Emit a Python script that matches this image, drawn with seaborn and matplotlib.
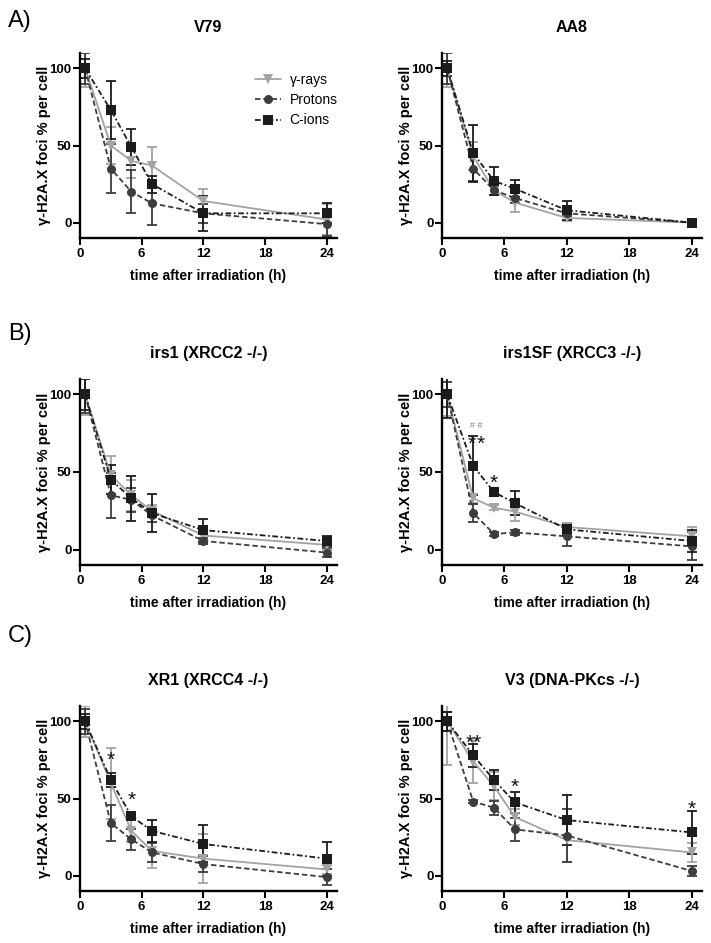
import matplotlib
matplotlib.use("Agg")
import matplotlib.pyplot as plt
import pandas as pd
import seaborn as sns
from matplotlib.lines import Line2D

# ---------------- data ----------------
times = [0.5, 3, 5, 7, 12, 24]
series_names = ["γ-rays", "Protons", "C-ions"]
panel_titles = ["V79", "AA8", "irs1 (XRCC2 -/-)", "irs1SF (XRCC3 -/-)",
                "XR1 (XRCC4 -/-)", "V3 (DNA-PKcs -/-)"]
section_labels = ["A)", "B)", "C)"]
x_ticks = [0, 6, 12, 18, 24]
y_ticks = [0, 50, 100]
x_label = "time after irradiation (h)"
y_label = "γ-H2A.X foci % per cell"

v79_gamma = [100, 50, 40, 37, 14, 2]
v79_gamma_err = [12, 12, 11, 12, 8, 10]
v79_protons = [100, 35, 20, 12.5, 6, -1]
v79_protons_err = [10, 16, 14, 14, 6, 8]
v79_cions = [100, 73, 49, 25, 6, 6]
v79_cions_err = [6, 19, 11.5, 5.5, 11.5, 6.5]

aa8_gamma = [100, 43, 21, 13, 3, 0]
aa8_gamma_err = [12, 9, 3, 6, 2, 0.5]
aa8_protons = [100, 35, 21, 16, 6, 0]
aa8_protons_err = [10, 8, 3, 3, 2, 0.5]
aa8_cions = [100, 45, 27, 22, 8, 0]
aa8_cions_err = [5, 18.5, 9, 5.5, 6, 1]

irs1_gamma = [100, 48, 35, 25, 9, 3]
irs1_gamma_err = [13, 12.5, 10, 4, 3, 3]
irs1_protons = [100, 35, 32, 22, 5.5, -2]
irs1_protons_err = [12, 14.5, 8, 4, 2, 3]
irs1_cions = [100, 45, 33, 23.5, 12.5, 5.5]
irs1_cions_err = [10, 9.5, 14.5, 12, 7.5, 3.5]

irs1sf_gamma = [100, 33, 27, 24.5, 14.5, 8.5]
irs1sf_gamma_err = [14, 3, 1.5, 6, 2, 6]
irs1sf_protons = [100, 23.5, 10, 11, 8.5, 2]
irs1sf_protons_err = [8, 6, 1.5, 1.5, 6, 9]
irs1sf_cions = [100, 54, 37, 30, 13, 5.5]
irs1sf_cions_err = [15, 19, 1.5, 7.5, 3.5, 7]

xr1_gamma = [100, 60, 29, 16, 11, 4]
xr1_gamma_err = [10, 23, 7, 11, 16, 3]
xr1_protons = [100, 34, 23.5, 15, 7.5, -1]
xr1_protons_err = [8, 11.5, 7, 6, 5, 5]
xr1_cions = [100, 62, 38.5, 29, 20.5, 11]
xr1_cions_err = [5, 4.5, 2, 7.3, 12, 11]

v3_gamma = [100, 74, 58, 38, 23, 15]
v3_gamma_err = [28, 14, 9, 5, 14.5, 6]
v3_protons = [100, 48, 44, 30, 26, 3]
v3_protons_err = [6, 1, 4.5, 7.5, 17, 3]
v3_cions = [100, 78, 62, 47.5, 36, 28]
v3_cions_err = [6, 7.5, 6.5, 7, 16, 14]

# significance marks
annot_panel = [3, 3, 3, 3, 4, 4, 5, 5, 5]
annot_x = [3.3, 2.85, 3.75, 5.0, 3.0, 5.0, 3.1, 7.0, 24.0]
annot_y = [80, 72, 72, 47, 79, 53, 90, 61, 47]
annot_text = ["# #", "*", "*", "*", "*", "*", "**", "*", "*"]

# ---------------- style ----------------
sns.set_style("ticks", {"axes.edgecolor": "black", "xtick.color": "black",
                        "ytick.color": "black", "text.color": "black",
                        "axes.labelcolor": "black"})
plt.rcParams['font.family'] = ['Liberation Sans', 'DejaVu Sans']

palette = {"γ-rays": "#a3a3a3", "Protons": "#3d3d3d", "C-ions": "#1c1c1c"}
dashes = {"γ-rays": "", "Protons": (3, 1.6), "C-ions": (3.2, 1.4, 1, 1.4)}
markers = {"γ-rays": "v", "Protons": "o", "C-ions": "s"}
LW = 1.3
MS = 6.5

panels = [
    (v79_gamma, v79_gamma_err, v79_protons, v79_protons_err, v79_cions, v79_cions_err),
    (aa8_gamma, aa8_gamma_err, aa8_protons, aa8_protons_err, aa8_cions, aa8_cions_err),
    (irs1_gamma, irs1_gamma_err, irs1_protons, irs1_protons_err, irs1_cions, irs1_cions_err),
    (irs1sf_gamma, irs1sf_gamma_err, irs1sf_protons, irs1sf_protons_err, irs1sf_cions, irs1sf_cions_err),
    (xr1_gamma, xr1_gamma_err, xr1_protons, xr1_protons_err, xr1_cions, xr1_cions_err),
    (v3_gamma, v3_gamma_err, v3_protons, v3_protons_err, v3_cions, v3_cions_err),
]

W, H = 711, 943
fig = plt.figure(figsize=(W / 100, H / 100), dpi=100)

col_px = [(80, 337), (442, 702)]
row_px = [(53, 238), (379, 565), (706, 891)]

axes = []
for i in range(6):
    r, c = divmod(i, 2)
    x0, x1 = col_px[c]
    y0, y1 = row_px[r]
    ax = fig.add_axes([x0 / W, 1 - y1 / H, (x1 - x0) / W, (y1 - y0) / H])
    axes.append(ax)

for i, ax in enumerate(axes):
    g, ge, p, pe, ci, ce = panels[i]
    vals = [g, p, ci]
    errs = [ge, pe, ce]
    df = pd.DataFrame({
        "time": times * 3,
        "value": g + p + ci,
        "series": [s for s in series_names for _ in times],
    })
    for name, v, e in zip(series_names, vals, errs):
        ax.errorbar(times, v, yerr=e, fmt='none', ecolor=palette[name],
                    elinewidth=1.3, capsize=3.5, capthick=1.3, zorder=2)
    sns.lineplot(data=df, x="time", y="value", hue="series", style="series",
                 hue_order=series_names, style_order=series_names,
                 palette=palette, dashes=dashes, markers=markers,
                 markersize=MS, markeredgewidth=0, linewidth=LW,
                 legend=False, ax=ax, zorder=3)

    ax.set_xlim(0, 25)
    ax.set_ylim(-10, 110)
    ax.set_xticks(x_ticks)
    ax.set_yticks(y_ticks)
    sns.despine(ax=ax)
    for s in ["left", "bottom"]:
        ax.spines[s].set_linewidth(1.7)
        ax.spines[s].set_color("black")
    ax.tick_params(width=1.5, length=5, labelsize=9.5, color="black")
    ax.tick_params(axis='y', pad=1)
    ax.tick_params(axis='x', pad=2.5)
    for lbl in ax.get_xticklabels() + ax.get_yticklabels():
        lbl.set_fontweight('bold')
    ax.set_xlabel(x_label, fontsize=10, fontweight='bold', labelpad=6)
    ax.set_ylabel(y_label, fontsize=10.5, fontweight='bold', labelpad=-1)
    ax.set_title(panel_titles[i], fontsize=11.5, fontweight='bold', pad=15)

for k in range(len(annot_text)):
    ax = axes[annot_panel[k]]
    t = annot_text[k]
    if t.startswith("#"):
        ax.text(annot_x[k], annot_y[k], t, ha='center', va='center',
                fontsize=6.5, color="#808080", zorder=5)
    else:
        ax.text(annot_x[k], annot_y[k] - 4, t, ha='center', va='center',
                fontsize=15, color="#111111", zorder=5)

# legend in first panel
handles = []
for name in series_names:
    d = dashes[name]
    h = Line2D([0], [0], color=palette[name], lw=LW, marker=markers[name],
               markersize=MS, markeredgewidth=0)
    if d:
        h.set_dashes(d)
    handles.append(h)
axes[0].legend(handles, series_names, loc='upper left',
               bbox_to_anchor=(255 / W, 1 - 73 / H), bbox_transform=fig.transFigure,
               frameon=False, borderpad=0, borderaxespad=0, fontsize=10,
               handlelength=1.9, handletextpad=0.6, labelspacing=0.45, numpoints=1)

label_y = [21, 334, 636]
for lab, yy in zip(section_labels, label_y):
    fig.text(8 / W, 1 - yy / H, lab, ha='left', va='center', fontsize=17)

fig.savefig("out.png", dpi=100)
